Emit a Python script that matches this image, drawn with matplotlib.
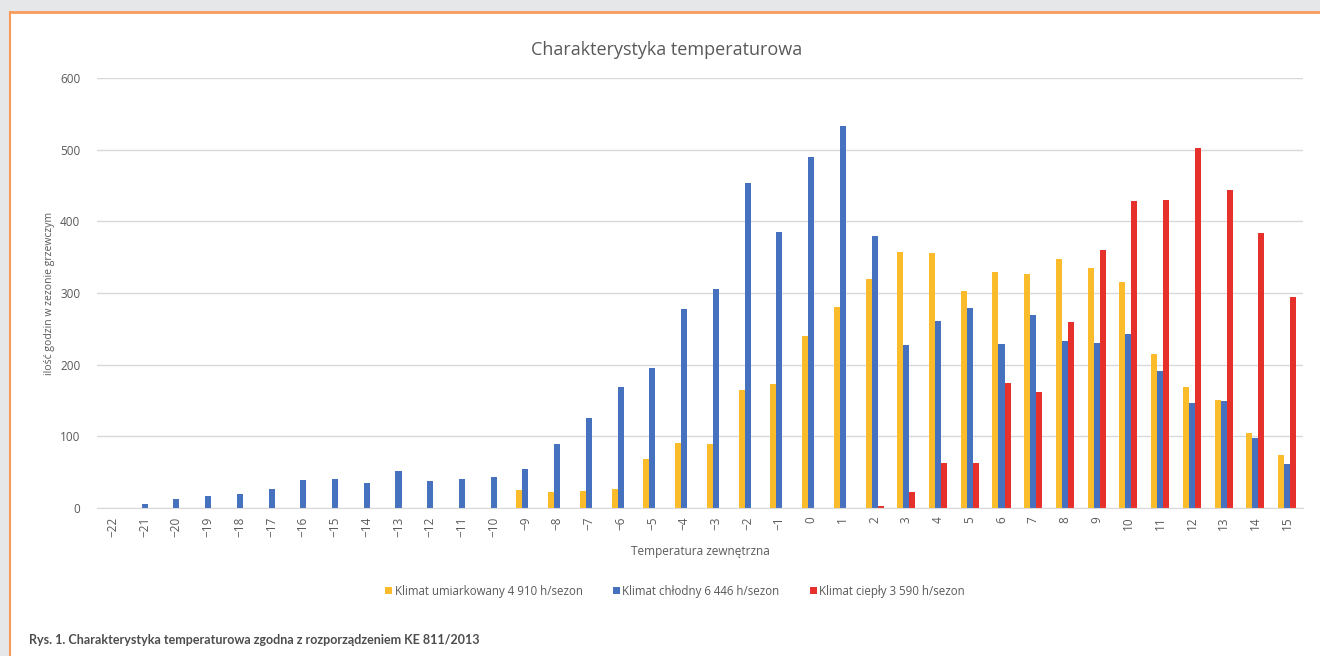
import matplotlib
matplotlib.use("Agg")
import matplotlib.pyplot as plt
from matplotlib.patches import Rectangle
from matplotlib.lines import Line2D
import numpy as np
from matplotlib import font_manager

temps = list(range(-22, 16))
tick_labels = [str(t).replace('-', '\u2212') for t in temps]

umiarkowany = [0, 0, 0, 0, 0, 0, 0, 0, 0, 0, 0, 0, 0,
               25, 23, 24, 27, 68, 91, 89, 165, 173, 240, 280, 320,
               357, 356, 303, 330, 326, 348, 335, 315, 215, 169, 151, 105, 74]
chlodny = [0, 6, 13, 17, 19, 26, 39, 41, 35, 52, 37, 41, 43,
           54, 90, 125, 169, 195, 278, 306, 454, 385, 490, 533, 380,
           228, 261, 279, 229, 269, 233, 230, 243, 191, 146, 150, 97, 61]
cieply = [0, 0, 0, 0, 0, 0, 0, 0, 0, 0, 0, 0, 0,
          0, 0, 0, 0, 0, 0, 0, 0, 0, 0, 0, 3,
          22, 63, 63, 175, 162, 259, 360, 428, 430, 503, 444, 384, 294]

series_names = ["Klimat umiarkowany 4 910 h/sezon",
                "Klimat chłodny 6 446 h/sezon",
                "Klimat ciepły 3 590 h/sezon"]
colors = ["#FBBC2C", "#4571BF", "#E5302B"]

title = "Charakterystyka temperaturowa"
ylabel = "ilość godzin w zezonie grzewczym"
xlabel = "Temperatura zewnętrzna"
caption = "Rys. 1. Charakterystyka temperaturowa zgodna z rozporządzeniem KE 811/2013"

avail = {f.name for f in font_manager.fontManager.ttflist}
base_font = "Open Sans" if "Open Sans" in avail else "DejaVu Sans"
if "Liberation Sans Narrow" in avail:
    cap_font, cap_size = "Liberation Sans Narrow", 10
elif "Lato" in avail:
    cap_font, cap_size = "Lato", 9
else:
    cap_font, cap_size = base_font, 8
plt.rcParams['font.family'] = [base_font, 'DejaVu Sans']

W, H = 1320, 656
fig = plt.figure(figsize=(W / 100, H / 100), dpi=100)
fig.patch.set_facecolor("#E6E7E8")

# white panel with orange frame (top and left)
panel_left = 10 / W
panel_top = 1 - 12 / H
fig.add_artist(Rectangle((panel_left, 0), 1 - panel_left, panel_top,
                         transform=fig.transFigure, facecolor="white",
                         edgecolor="none", zorder=0))
orange = "#F79A5C"
fig.add_artist(Line2D([panel_left, 1], [panel_top, panel_top], transform=fig.transFigure,
                      color=orange, lw=2.0, zorder=1))
fig.add_artist(Line2D([panel_left, panel_left], [0, panel_top], transform=fig.transFigure,
                      color=orange, lw=1.5, zorder=1))

ax = fig.add_axes([97 / W, 1 - 508 / H, (1303 - 97) / W, (508 - 78) / H])
ax.set_facecolor("none")

x = np.arange(len(temps))
bw = 0.19
handles = []
for i, (vals, c, name) in enumerate(zip([umiarkowany, chlodny, cieply], colors, series_names)):
    b = ax.bar(x + (i - 1) * bw, vals, width=bw, color=c, label=name, zorder=3)
    handles.append(b)

ax.set_xlim(-0.5, len(temps) - 0.5)
ax.set_ylim(0, 600)
ax.set_yticks(range(0, 601, 100))
ax.set_xticks(x)
ax.set_xticklabels(tick_labels, rotation=90)
ax.tick_params(axis='both', length=0, colors="#595959", labelsize=8.5)
ax.tick_params(axis='y', pad=12)
ax.tick_params(axis='x', pad=6)
ax.grid(axis='y', color="#D9D9D9", lw=1.0, zorder=0)
for s in ["top", "right", "left"]:
    ax.spines[s].set_visible(False)
ax.spines["bottom"].set_color("#D9D9D9")
ax.spines["bottom"].set_zorder(4)

fig.text(667 / W, 1 - 50 / H, title, ha='center', va='center', fontsize=13, color="#595959")
fig.text(50 / W, 1 - 293 / H, ylabel, ha='center', va='center', rotation=90,
         fontsize=7.5, color="#595959")
fig.text(700 / W, 1 - 551 / H, xlabel, ha='center', va='center', fontsize=8.5, color="#595959")

leg = fig.legend(handles=handles, labels=series_names, loc='center',
                 bbox_to_anchor=(675 / W, 1 - 591 / H), ncol=3, frameon=False,
                 fontsize=8.3, handlelength=0.65, handleheight=0.65, handletextpad=0.2,
                 columnspacing=2.6)
for t in leg.get_texts():
    t.set_color("#595959")

fig.text(29 / W, 1 - 640 / H, caption, ha='left', va='center', fontsize=cap_size,
         fontweight='bold', color="#4D4D4F", family=[cap_font, 'DejaVu Sans'])

fig.savefig("out.png", dpi=100, facecolor=fig.get_facecolor())
